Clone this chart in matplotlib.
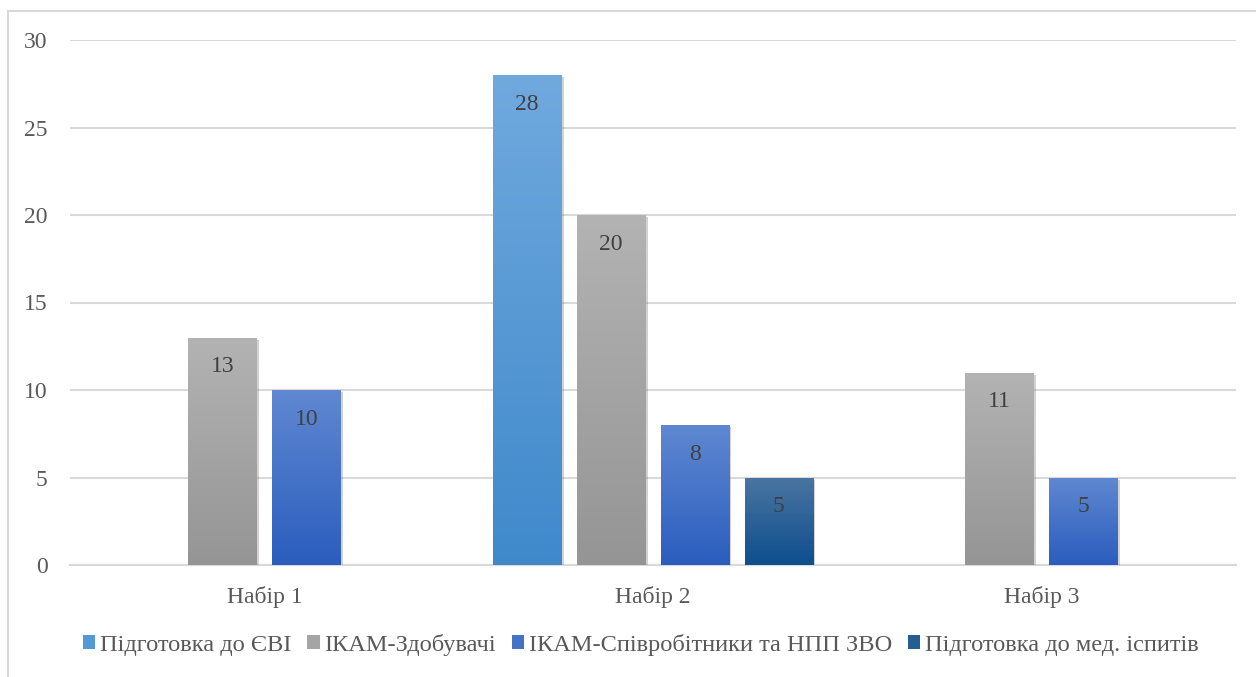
import numpy as np
import matplotlib
matplotlib.use("Agg")
import matplotlib.pyplot as plt
from matplotlib.patches import Rectangle, Patch
from matplotlib.colors import LinearSegmentedColormap
import matplotlib.patheffects as pe

plt.rcParams['font.family'] = ['Liberation Serif', 'DejaVu Serif']

categories = ["Набір 1", "Набір 2", "Набір 3"]
series_names = ["Підготовка до ЄВІ", "ІКАМ-Здобувачі",
                "ІКАМ-Співробітники та НПП ЗВО", "Підготовка до мед. іспитів"]
evi = [np.nan, 28, np.nan]
zdobuvachi = [13, 20, 11]
spivrobitnyky = [10, 8, 5]
med = [np.nan, 5, np.nan]
series_values = [evi, zdobuvachi, spivrobitnyky, med]
yticks = [0, 5, 10, 15, 20, 25, 30]

top_colors = ["#70A9DE", "#B3B3B3", "#6088D1", "#4B75A1"]
bot_colors = ["#3F89CB", "#959595", "#2A5DBE", "#0D4E8E"]
mid_colors = ["#5399D6", "#A5A5A5", "#4472C4", "#255E91"]

FS = 17
W, H = 1256, 677
fig = plt.figure(figsize=(W / 100, H / 100), dpi=100)

# outer chart border
fig.patches.append(Rectangle((7.5 / W, -0.1), 1.2, 1 - 10.5 / H + 0.1,
                             transform=fig.transFigure, fill=False,
                             edgecolor="#D9D9D9", linewidth=1.5))

ax = fig.add_axes([70 / W, 112 / H, (1236 - 70) / W, (565 - 40) / H])
ax.set_xlim(-0.5, 2.5)
ax.set_ylim(0, 30)

n = len(series_values)
bw = 0.177
step = 0.216
x = np.arange(len(categories))

for i, vals in enumerate(series_values):
    pos = x + (i - (n - 1) / 2) * step
    grad = LinearSegmentedColormap.from_list("g%d" % i, [bot_colors[i], top_colors[i]])
    for xp, v in zip(pos, vals):
        if np.isnan(v):
            continue
        bars = ax.bar(xp, v, width=bw, color=mid_colors[i], zorder=3,
                      path_effects=[pe.SimplePatchShadow(offset=(1.5, -1.5),
                                                         shadow_rgbFace="#808080", alpha=0.35),
                                    pe.Normal()])
        rect = bars[0]
        img = np.linspace(0, 1, 256).reshape(-1, 1)
        im = ax.imshow(img, cmap=grad, origin="lower", aspect="auto",
                       extent=(xp - bw / 2, xp + bw / 2, 0, v), zorder=4,
                       interpolation="bilinear")
        im.set_clip_path(rect)
        ax.annotate("%d" % v, (xp, v), xytext=(0, -21), textcoords="offset points",
                    ha="center", va="center", fontsize=FS, color="#404040", zorder=5)

ax.set_xlim(-0.5, 2.5)
ax.set_ylim(0, 30)

ax.set_yticks(yticks)
ax.set_xticks(x)
ax.set_xticklabels(categories)
ax.grid(axis="y", color="#D9D9D9", linewidth=1.5, zorder=0)
ax.set_axisbelow(True)
for s in ["top", "right", "left"]:
    ax.spines[s].set_visible(False)
ax.spines["bottom"].set_color("#D9D9D9")
ax.spines["bottom"].set_linewidth(1.5)
ax.tick_params(axis="both", length=0, labelsize=FS, labelcolor="#595959")
ax.tick_params(axis="y", pad=16)
ax.tick_params(axis="x", pad=15)

handles = [Patch(facecolor=mid_colors[i], edgecolor="none") for i in range(n)]
fig.legend(handles, series_names, loc="center", bbox_to_anchor=(641 / W, 1 - 645 / H),
           ncol=4, frameon=False, fontsize=17.6, labelcolor="#595959",
           handlelength=0.5, handleheight=0.5, handletextpad=0.2,
           columnspacing=0.65)

fig.savefig("out.png", dpi=100)
